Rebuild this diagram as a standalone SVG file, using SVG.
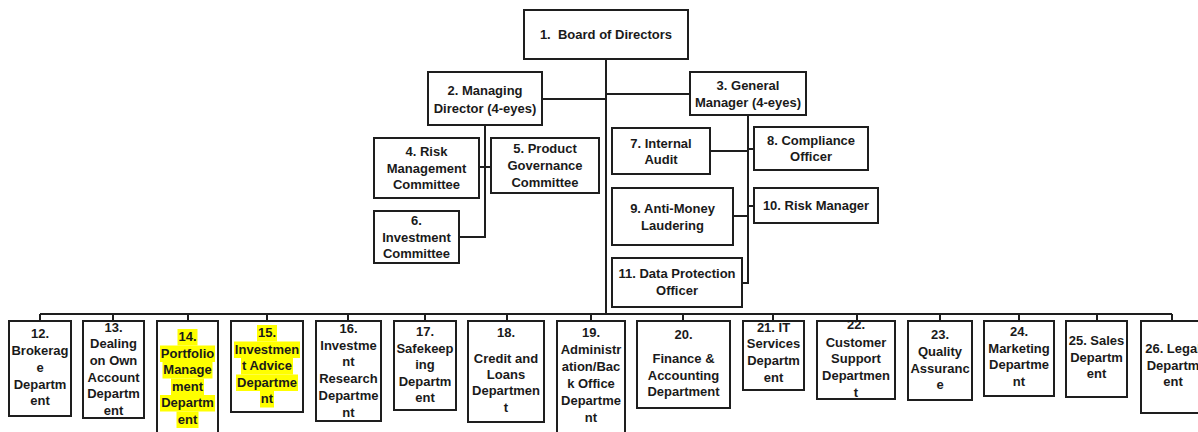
<svg xmlns="http://www.w3.org/2000/svg" width="1198" height="432" viewBox="0 0 1198 432">
<style>
.b{fill:#fff;stroke:#1e1e1e;stroke-width:2}
.c{fill:none;stroke:#1e1e1e;stroke-width:2}
text{font-family:"Liberation Sans",Arial,sans-serif;font-weight:bold;font-size:13px;fill:#1a1a1a;text-anchor:middle}
.h{fill:#ffff00}
</style>
<rect width="1198" height="432" fill="#fff"/>
<g id="connectors" class="c">
<path d="M606 59V314M542 99H606M606 94H690"/>
<path d="M485 125V237H459M479 167H491"/>
<path d="M748 115V283H742M710 151H748M748 149H754M733 216H748M748 206H754"/>
<path d="M40 314H1172"/>
<path d="M40 314V321M113 314V321M188 314V321M267 314V321M348 314V321M425 314V321M507 314V321M591 314V321M683 314V321M773 314V321M857 314V321M940 314V321M1019 314V321M1097 314V321M1172 314V321"/>
</g>
<g id="n1"><rect class="b" x="524" y="10" width="164" height="49"/><text x="606" y="39" xml:space="preserve">1.  Board of Directors</text></g>
<g id="n2"><rect class="b" x="428" y="72" width="114" height="53"/><text x="485" y="95">2. Managing</text><text x="485" y="113">Director (4-eyes)</text></g>
<g id="n3"><rect class="b" x="690" y="72" width="116" height="43"/><text x="748" y="90">3. General</text><text x="748" y="107">Manager (4-eyes)</text></g>
<g id="n4"><rect class="b" x="374" y="138" width="105" height="60"/><text x="426.5" y="156">4. Risk</text><text x="426.5" y="173">Management</text><text x="426.5" y="189">Committee</text></g>
<g id="n5"><rect class="b" x="491" y="138" width="108" height="55"/><text x="545" y="153">5. Product</text><text x="545" y="170">Governance</text><text x="545" y="187">Committee</text></g>
<g id="n6"><rect class="b" x="374" y="211" width="85" height="52"/><text x="416.5" y="225">6.</text><text x="416.5" y="242">Investment</text><text x="416.5" y="258">Committee</text></g>
<g id="n7"><rect class="b" x="612" y="128" width="98" height="46"/><text x="661" y="148">7. Internal</text><text x="661" y="164">Audit</text></g>
<g id="n8"><rect class="b" x="754" y="127" width="114" height="43"/><text x="811" y="145">8. Compliance</text><text x="811" y="161">Officer</text></g>
<g id="n9"><rect class="b" x="612" y="188" width="121" height="57"/><text x="672.5" y="213">9. Anti-Money</text><text x="672.5" y="230">Laudering</text></g>
<g id="n10"><rect class="b" x="754" y="188" width="124" height="35"/><text x="816" y="210">10. Risk Manager</text></g>
<g id="n11"><rect class="b" x="612" y="258" width="130" height="49"/><text x="677" y="278">11. Data Protection</text><text x="677" y="295">Officer</text></g>
<g id="n12"><rect class="b" x="9" y="321" width="62" height="95"/><text x="40" y="338">12.</text><text x="40" y="355">Brokerag</text><text x="40" y="372">e</text><text x="40" y="389">Departm</text><text x="40" y="405">ent</text></g>
<g id="n13"><rect class="b" x="83" y="321" width="61" height="97"/><text x="113.5" y="332">13.</text><text x="113.5" y="348">Dealing</text><text x="113.5" y="365">on Own</text><text x="113.5" y="382">Account</text><text x="113.5" y="398">Departm</text><text x="113.5" y="415">ent</text></g>
<g id="n14"><rect class="b" x="157" y="321" width="61" height="125"/>
<rect class="h" x="177.5" y="329" width="20" height="16.5"/><rect class="h" x="160" y="345.5" width="55" height="16.5"/><rect class="h" x="162.5" y="362" width="50" height="16.5"/><rect class="h" x="171" y="378.5" width="33" height="16.5"/><rect class="h" x="160" y="395" width="55" height="16.5"/><rect class="h" x="176.5" y="411.5" width="22" height="16.5"/>
<text x="187.5" y="341">14.</text><text x="187.5" y="357.5">Portfolio</text><text x="187.5" y="374">Manage</text><text x="187.5" y="390.5">ment</text><text x="187.5" y="407">Departm</text><text x="187.5" y="423.5">ent</text></g>
<g id="n15"><rect class="b" x="231" y="321" width="72" height="91"/>
<rect class="h" x="257" y="325" width="20" height="16.5"/><rect class="h" x="234" y="341.5" width="66" height="16.5"/><rect class="h" x="241" y="358" width="52" height="16.5"/><rect class="h" x="236" y="374.5" width="62" height="16.5"/><rect class="h" x="260" y="391" width="14" height="16.5"/>
<text x="267" y="337">15.</text><text x="267" y="353.5">Investmen</text><text x="267" y="370">t Advice</text><text x="267" y="386.5">Departme</text><text x="267" y="403">nt</text></g>
<g id="n16"><rect class="b" x="316" y="321" width="65" height="100"/><text x="348.5" y="333">16.</text><text x="348.5" y="350">Investme</text><text x="348.5" y="366">nt</text><text x="348.5" y="383">Research</text><text x="348.5" y="400">Departme</text><text x="348.5" y="417">nt</text></g>
<g id="n17"><rect class="b" x="394" y="321" width="62" height="89"/><text x="425" y="336">17.</text><text x="425" y="353">Safekeep</text><text x="425" y="369">ing</text><text x="425" y="386">Departm</text><text x="425" y="402">ent</text></g>
<g id="n18"><rect class="b" x="468" y="321" width="76" height="101"/><text x="506" y="337">18.</text><text x="506" y="363">Credit and</text><text x="506" y="379">Loans</text><text x="506" y="395">Departmen</text><text x="506" y="412">t</text></g>
<g id="n19"><rect class="b" x="557" y="321" width="68" height="125"/><text x="591" y="337">19.</text><text x="591" y="354">Administr</text><text x="591" y="371">ation/Bac</text><text x="591" y="388">k Office</text><text x="591" y="405">Departme</text><text x="591" y="422">nt</text></g>
<g id="n20"><rect class="b" x="637" y="321" width="93" height="87"/><text x="683.5" y="339">20.</text><text x="683.5" y="363">Finance &amp;</text><text x="683.5" y="380">Accounting</text><text x="683.5" y="396">Department</text></g>
<g id="n21"><rect class="b" x="743" y="321" width="61" height="69"/><text x="773.5" y="332">21. IT</text><text x="773.5" y="348">Services</text><text x="773.5" y="365">Departm</text><text x="773.5" y="382">ent</text></g>
<g id="n22"><rect class="b" x="817" y="321" width="78" height="78"/><text x="856" y="329">22.</text><text x="856" y="347">Customer</text><text x="856" y="363">Support</text><text x="856" y="380">Departmen</text><text x="856" y="397">t</text></g>
<g id="n23"><rect class="b" x="908" y="321" width="64" height="79"/><text x="940" y="339">23.</text><text x="940" y="356">Quality</text><text x="940" y="373">Assuranc</text><text x="940" y="389">e</text></g>
<g id="n24"><rect class="b" x="984" y="321" width="70" height="75"/><text x="1019" y="336">24.</text><text x="1019" y="353">Marketing</text><text x="1019" y="369">Departme</text><text x="1019" y="386">nt</text></g>
<g id="n25"><rect class="b" x="1066" y="321" width="61" height="76"/><text x="1096.5" y="345">25. Sales</text><text x="1096.5" y="362">Departm</text><text x="1096.5" y="378">ent</text></g>
<g id="n26"><rect class="b" x="1141" y="321" width="64" height="92"/><text x="1173" y="353">26. Legal</text><text x="1173" y="370">Departm</text><text x="1173" y="386">ent</text></g>
</svg>
